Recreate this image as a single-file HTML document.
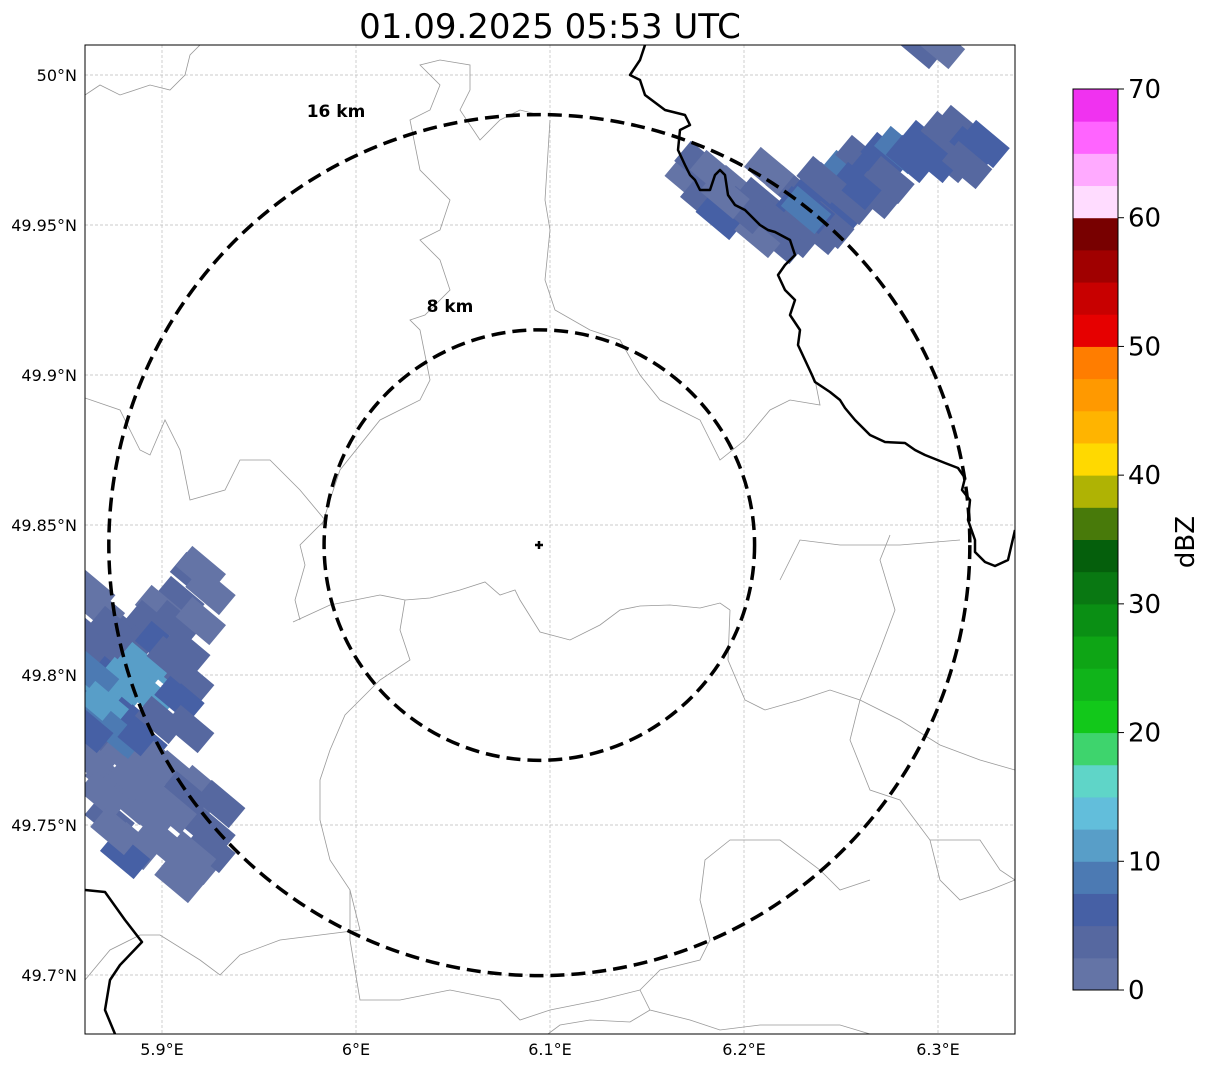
<!DOCTYPE html>
<html><head><meta charset="utf-8">
<style>
body{margin:0;background:#fff;width:1207px;height:1069px;overflow:hidden;font-family:"DejaVu Sans","Liberation Sans",sans-serif;}
svg{position:absolute;left:0;top:0}
</style></head>
<body>
<svg id="chart" width="1207" height="1069">
  <text x="550" y="38" font-size="34" text-anchor="middle">01.09.2025 05:53 UTC</text>
  <defs><clipPath id="mapclip"><rect x="85" y="45" width="930" height="989"/></clipPath></defs>
  <g id="grid"></g>
  <g clip-path="url(#mapclip)">
    <g fill="none" stroke="#999" stroke-width="0.8">
      <path d="M85,95 L100,85 L120,95 L150,85 L170,90 L185,75 L190,55 L200,45"/>
      <path d="M293,622 L330,605 L380,595 L405,600 L430,598 L460,590 L485,582 L500,595 L515,590 L520,600 L540,632 L570,640 L600,625 L620,610 L640,606 L670,605 L700,608 L720,603 L730,610"/>
      <path d="M300,620 L295,600 L305,565 L300,545 L325,520 L300,490 L270,460 L240,460 L225,490 L190,500 L180,450 L165,420 L150,455 L140,450 L120,410 L85,398"/>
      <path d="M322,525 L330,500 L340,470 L380,420 L420,400 L430,380 L420,330 L410,320 L425,315 L450,290 L440,260 L420,240 L440,230 L450,200 L420,170 L410,120 L430,110 L440,85 L420,65 L440,60 L470,65 L470,90 L460,110 L480,140 L500,120 L520,110 L540,115"/>
      <path d="M550,120 L545,200 L550,230 L545,280 L555,310 L590,330 L620,340 L640,375 L660,400 L700,420 L720,460 L745,440 L770,410 L790,400 L820,405 L815,380"/>
      <path d="M780,580 L790,560 L800,540 L840,545 L900,545 L960,540"/>
      <path d="M730,610 L728,660 L745,700 L765,710 L800,700 L830,690 L860,700 L900,720 L940,745 L980,760 L1015,770"/>
      <path d="M890,535 L880,560 L895,610 L880,650 L860,700 L850,740 L870,790 L900,800 L930,840 L940,880 L960,900 L990,890 L1015,880"/>
      <path d="M405,600 L400,630 L410,660 L380,680 L360,700 L345,715 L330,750 L320,780 L320,820 L330,860 L350,890 L350,940 L360,1000 L400,1000 L450,990 L500,1000 L520,1020 L550,1010 L600,1000 L640,990"/>
      <path d="M85,980 L110,950 L140,935 L160,935 L200,960 L220,975 L240,955 L280,940 L320,935 L360,930 L350,890"/>
      <path d="M640,990 L660,970 L700,960 L710,940 L700,900 L705,860 L730,840 L780,840 L820,870 L840,890 L870,880"/>
      <path d="M640,990 L650,1010 L690,1020 L720,1030 L760,1025 L800,1025 L840,1025 L870,1034"/>
      <path d="M548,1034 L560,1025 L590,1020 L630,1022 L650,1010"/>
      <path d="M930,840 L980,840 L1000,870 L1015,880"/>
    </g>
    <g id="cells"></g>
    <g fill="none" stroke="#000" stroke-width="2.5" stroke-linejoin="round">
      <path d="M645,45 L640,60 L630,75 L640,80 L645,95 L665,110 L685,115 L690,125 L680,130 L678,150 L685,165 L690,175 L695,180 L700,190 L710,190 L715,175 L720,170 L725,175 L728,195 L735,205 L745,210 L750,215 L760,225 L768,230 L775,232 L790,240 L795,255 L785,265 L778,275 L785,290 L795,300 L790,315 L800,330 L798,345 L805,360 L812,375 L815,382 L830,392 L840,400 L845,408 L855,420 L870,435 L885,442 L905,443 L915,450 L925,455 L945,463 L958,468 L965,478 L962,490 L970,500 L968,520 L975,540 L975,552 L985,562 L995,566 L1008,560 L1015,530"/>
      <path d="M85,890 L105,892 L125,920 L142,942 L120,965 L110,980 L105,1010 L115,1034"/>
    </g>
    <g id="rings"></g>
    <path d="M535,545 L543,545 M539,541 L539,549" stroke="#000" stroke-width="2.5"/>
    <text x="336" y="117" font-size="17" font-weight="bold" text-anchor="middle">16 km</text>
    <text x="450" y="312" font-size="17" font-weight="bold" text-anchor="middle">8 km</text>
  </g>
  <rect x="85" y="45" width="930" height="989" fill="none" stroke="#000" stroke-width="1"/>
  <g id="ticks"></g>
  <g id="cbar"></g>
  <text transform="translate(1194,542) rotate(-90)" font-size="26" text-anchor="middle">dBZ</text>
</svg>
<script>
const latTicks=[50,49.95,49.9,49.85,49.8,49.75,49.7];
const latTickLabels=["50°N","49.95°N","49.9°N","49.85°N","49.8°N","49.75°N","49.7°N"];
const lonTicks=[5.9,6.0,6.1,6.2,6.3];
const lonTickLabels=["5.9°E","6°E","6.1°E","6.2°E","6.3°E"];
const radarLon=6.0945, radarLat=49.8433;
const ringRadiiKm=[8,16];
const cbarTicks=[0,10,20,30,40,50,60,70];
const cbarColors=["#6474a6","#5668a0","#4660a5","#4c7ab3","#589ec8","#62bedb","#5fd5c8","#3ed46d","#12c81a","#10b41a","#0ea515","#0a8f14","#097812","#055f0c","#487a0a","#afb304","#ffd900","#ffb400","#ff9900","#ff7d00","#e60000","#c80000","#a00000","#780000","#ffdcff","#ffaaff","#ff64ff","#f032f0"];
const cellLon=[5.917,5.925,5.909,5.899,5.894,5.907,5.920,5.884,5.899,5.912,5.873,5.868,5.889,5.902,5.914,5.865,5.878,5.894,5.909,5.865,5.884,5.899,5.914,5.868,5.881,5.894,5.907,5.920,5.930,5.873,5.884,5.894,5.873,5.886,5.899,5.920,5.917,5.909,5.881,5.863,5.868,5.863,5.863,5.889,5.920,5.925,
 5.875,5.880,5.865,5.870,5.878,5.890,5.905,5.862,5.870,5.885,5.900,5.912,5.925,5.876,5.905,5.915,
 6.172,6.177,6.185,6.180,6.188,6.195,6.208,6.213,6.224,6.229,6.237,6.244,6.252,6.260,6.268,6.273,6.280,6.286,6.293,6.304,6.311,6.317,6.324,6.306,6.226,6.219,6.239,6.247,6.255,6.208,6.213,6.291,6.301,6.244,6.268,6.234,
 6.200,6.218,6.232,6.258,6.275,6.298,6.315,6.190,6.240];
const cellLat=[49.833,49.828,49.825,49.822,49.817,49.817,49.818,49.812,49.810,49.808,49.807,49.802,49.803,49.802,49.798,49.795,49.795,49.793,49.792,49.787,49.785,49.785,49.782,49.778,49.773,49.772,49.767,49.762,49.757,49.765,49.758,49.753,49.752,49.743,49.745,49.750,49.738,49.732,49.740,49.828,49.822,49.812,49.772,49.765,49.835,49.742,
 49.815,49.798,49.800,49.790,49.780,49.778,49.805,49.782,49.760,49.765,49.770,49.760,49.748,49.748,49.755,49.740,
 49.965,49.970,49.967,49.958,49.953,49.962,49.958,49.953,49.962,49.955,49.960,49.963,49.967,49.972,49.968,49.973,49.975,49.972,49.977,49.980,49.982,49.975,49.977,49.972,49.947,49.945,49.948,49.953,49.958,49.947,49.968,50.010,50.010,49.950,49.960,49.955,
 49.955,49.950,49.955,49.963,49.965,49.972,49.970,49.960,49.965];
const cellDbz=[3,2,3,2,4,3,2,3,5,4,3,5,12,11,4,10,12,10,5,8,6,4,3,3,2,2,2,2,3,2,2,2,3,2,1,4,2,2,5,2,2,3,2,2,2,3,
 4,10,9,11,8,5,3,6,2,2,2,3,3,2,2,2,
 2,3,2,3,5,2,3,4,4,5,6,5,9,4,6,5,9,5,5,4,3,7,5,4,3,4,3,5,3,2,2,3,2,4,3,5,
 3,4,9,5,4,5,4,2,4];

const NS="http://www.w3.org/2000/svg";
const X=lon=>162+(lon-5.9)*1940;
const Y=lat=>75+(50-lat)*3000;
const kmToPx=km=>km*(430.5/16);
function mk(tag,attrs,parent){const e=document.createElementNS(NS,tag);for(const k in attrs)e.setAttribute(k,attrs[k]);parent.appendChild(e);return e;}
const colorFor=d=>cbarColors[Math.max(0,Math.min(cbarColors.length-1,Math.floor(d/2.5)))];

const grid=document.getElementById('grid'), ticks=document.getElementById('ticks');
latTicks.forEach((v,i)=>{
  const g=mk('line',{x1:85,x2:1015,y1:Y(v),y2:Y(v),stroke:'#bbb','stroke-width':0.7,'stroke-dasharray':'3,2'},grid);
  
  
  const t=mk('text',{x:77,y:Y(v)+6,'font-size':16,'text-anchor':'end'},ticks);
  t.textContent=latTickLabels[i];
  
  
});
lonTicks.forEach((v,i)=>{
  const g=mk('line',{x1:X(v),x2:X(v),y1:45,y2:1034,stroke:'#bbb','stroke-width':0.7,'stroke-dasharray':'3,2'},grid);
  
  
  const t=mk('text',{x:X(v),y:1055,'font-size':16,'text-anchor':'middle'},ticks);
  t.textContent=lonTickLabels[i];
  
  
});

const cells=document.getElementById('cells');
cellLon.forEach((lon,i)=>{
  const cx=X(lon), cy=Y(cellLat[i]);
  const r=mk('rect',{x:cx-22,y:cy-13,width:44,height:26,fill:colorFor(cellDbz[i]),transform:`rotate(40 ${cx} ${cy})`},cells);
  
  
});

const rings=document.getElementById('rings');
ringRadiiKm.forEach(km=>{
  const c=mk('circle',{cx:X(radarLon),cy:Y(radarLat),r:kmToPx(km),fill:'none',stroke:'#000','stroke-width':3.5,'stroke-dasharray':'14,7'},rings);
  
  
});

const cbar=document.getElementById('cbar');
const cbTop=89,cbBot=990,cbX=1073,cbW=45;
const cbY=v=>cbBot-(v/70)*(cbBot-cbTop);
cbarColors.forEach((c,i)=>{
  const y1=cbY((i+1)*2.5), y0=cbY(i*2.5);
  const r=mk('rect',{x:cbX,y:y1,width:cbW,height:y0-y1+0.5,fill:c},cbar);
  
  
});
mk('rect',{x:cbX,y:cbTop,width:cbW,height:cbBot-cbTop,fill:'none',stroke:'#000','stroke-width':1},cbar);
cbarTicks.forEach(v=>{
  mk('line',{x1:cbX+cbW,x2:cbX+cbW+6,y1:cbY(v),y2:cbY(v),stroke:'#000'},cbar);
  const t=mk('text',{x:cbX+cbW+10,y:cbY(v)+9,'font-size':26},cbar);
  t.textContent=v;
  
  
});
</script>
</body></html>
